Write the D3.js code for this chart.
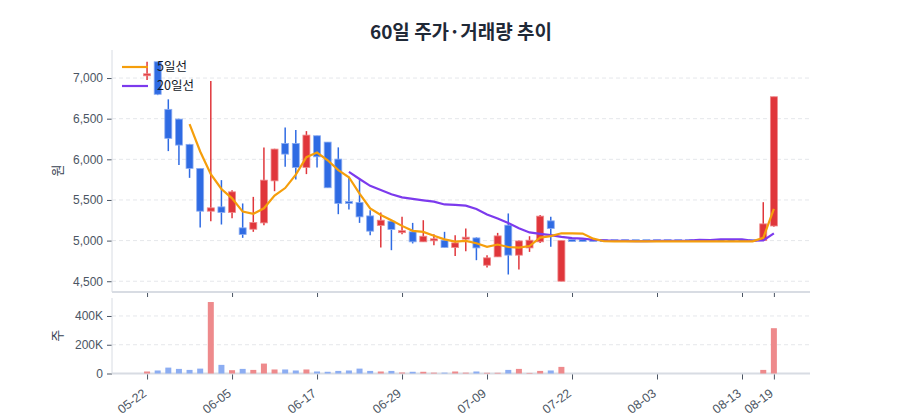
<!DOCTYPE html>
<html>
<head>
<meta charset="utf-8">
<script src="https://cdn.jsdelivr.net/npm/d3@7"></script>
<style>
	body { margin: 0; background: #fff; }
	svg { font-family: "Noto Sans CJK KR", "Noto Sans", sans-serif; }
	.tick text { fill: #4b5563; font-size: 12px; }
	.grid line { stroke: #e5e7eb; stroke-dasharray: 4,3; }
</style>
</head>
<body>
<svg id="chart" width="900" height="420"></svg>
<script>

const DATES = ['05-22','05-23','05-24','05-27','05-28','05-29','05-31','06-03','06-05','06-07',
	'06-08','06-10','06-11','06-12','06-13','06-14','06-17','06-18','06-19','06-20',
	'06-21','06-24','06-25','06-26','06-29','07-01','07-02','07-03','07-04','07-05',
	'07-06','07-08','07-09','07-10','07-11','07-12','07-15','07-16','07-17','07-19',
	'07-22','07-23','07-24','07-25','07-26','07-29','07-30','07-31','08-03','08-05',
	'08-06','08-07','08-08','08-09','08-10','08-12','08-13','08-14','08-16','08-19'];

const OPEN = [7020,7200,6615,6495,6184,5888,5362,5415,5346,5157,
	5140,5218,5735,6196,6196,5900,6290,6212,6003,5470,
	5470,5304,5186,5239,5100,5108,4985,5000,5005,4915,
	5020,5033,4697,4800,5190,4821,4910,4985,5243,4500,
	5000,5000,5000,5000,5000,5000,5000,5000,5000,5000,
	5000,5000,5000,5000,5000,5000,5000,5000,5000,5180];
const HIGH = [7200,7200,6738,6500,6190,5888,6963,5744,5621,5457,
	5538,6147,6130,6393,6360,6347,6290,6212,6147,5785,
	5744,5374,5346,5250,5292,5218,5251,5079,5108,5067,
	5149,5040,4821,5095,5334,5000,5054,5314,5292,5000,
	5000,5000,5000,5000,5000,5000,5000,5000,5000,5000,
	5000,5000,5000,5000,5000,5000,5000,5000,5473,6770];
const LOW = [6975,6790,6101,5929,5772,5161,5239,5198,5276,5034,
	5108,5190,5608,5908,5753,5818,5900,5650,5325,5383,
	5218,5067,4915,4882,5079,4965,4985,4943,4915,4812,
	4870,4759,4669,4800,4583,4644,4861,4970,4923,4500,
	4990,4990,4990,4990,4990,4990,4990,4990,4990,4990,
	4990,4990,4990,4990,4990,4990,4990,4990,5000,5169];
const CLOSE = [7040,6800,6258,6175,5888,5362,5403,5346,5600,5075,
	5223,5744,6126,6064,5900,6298,6031,5650,5457,5460,
	5292,5116,5251,5137,5110,4985,5054,5010,4915,4972,
	5030,4910,4788,5058,4821,4996,5005,5301,5149,5000,
	4990,4990,4990,4990,4990,4990,4990,4990,4990,4990,
	4990,4990,4990,4990,4990,4990,4990,4990,5206,6770];
const VOLUME = [14000,21000,41000,32000,25000,34000,497000,60000,23000,32000,
	25000,69000,28000,28000,21000,28000,14000,12000,18000,21000,
	34000,18000,14000,18000,7000,12000,12000,6000,6000,14000,
	6000,14000,5000,5000,25000,32000,4000,18000,21000,46000,
	0,0,0,0,0,0,0,0,0,0,
	0,0,0,0,0,0,0,0,25000,315000];

const X_TICKS = ['05-22','06-05','06-17','06-29','07-09','07-22','08-03','08-13','08-19'];
const PRICE_TICKS = [4500, 5000, 5500, 6000, 6500, 7000];
const VOLUME_TICKS = [0, 200000, 400000];

const RED = '#e0363b', BLUE = '#2f6be3';
const RED_LIGHT = '#ee8a8c', BLUE_LIGHT = '#8cadf2';

function movingAverage(values, n) {
	return values.map((v, i) => {
		if (i < n - 1) return null;
		return d3.mean(values.slice(i - n + 1, i + 1));
	});
}

const svg = d3.select('#chart');
const left = 112, right = 810;
const main = { top: 50, bottom: 291 };
const vol = { top: 298, bottom: 373.5 };

const candles = DATES.map((d, i) => ({
	i: i, date: d, o: OPEN[i], h: HIGH[i], l: LOW[i], c: CLOSE[i], v: VOLUME[i],
	up: CLOSE[i] >= OPEN[i]
}));

const x = d3.scaleLinear().domain([-3.3, 62.4]).range([left, right]);
const y = d3.scaleLinear().domain([4380, 7345]).range([main.bottom, main.top]);
const yv = d3.scaleLinear().domain([0, 525000]).range([vol.bottom, vol.top]);

const tickIdx = candles.filter(d => X_TICKS.includes(d.date)).map(d => d.i);

// title
svg.append('text')
	.attr('x', (left + right) / 2).attr('y', 39)
	.attr('text-anchor', 'middle')
	.attr('font-size', 19).attr('font-weight', 700)
	.attr('fill', '#1f2937')
	.text('60일 주가·거래량 추이');

// grid
svg.append('g').attr('class', 'grid')
	.selectAll('line').data(PRICE_TICKS).enter().append('line')
	.attr('x1', left).attr('x2', right)
	.attr('y1', d => y(d)).attr('y2', d => y(d));
svg.append('g').attr('class', 'grid')
	.selectAll('line').data(VOLUME_TICKS.slice(1)).enter().append('line')
	.attr('x1', left).attr('x2', right)
	.attr('y1', d => yv(d)).attr('y2', d => yv(d));

// axes
function styleAxis(g) {
	g.select('.domain').remove();
	g.selectAll('.tick line').attr('stroke', '#4b5563');
}

svg.append('g')
	.attr('transform', `translate(${left},0)`)
	.call(d3.axisLeft(y).tickValues(PRICE_TICKS).tickFormat(d3.format(',')).tickSize(5).tickPadding(4))
	.call(styleAxis);

svg.append('g')
	.attr('transform', `translate(${left},0)`)
	.call(d3.axisLeft(yv).tickValues(VOLUME_TICKS)
		.tickFormat(d => d === 0 ? '0' : (d / 1000) + 'K').tickSize(5).tickPadding(4))
	.call(styleAxis);

svg.append('g')
	.attr('transform', `translate(0,${main.bottom + 1})`)
	.call(d3.axisBottom(x).tickValues(tickIdx).tickFormat('').tickSize(5))
	.call(styleAxis);

const xAxisVol = svg.append('g')
	.attr('transform', `translate(0,${vol.bottom})`)
	.call(d3.axisBottom(x).tickValues(tickIdx).tickFormat(i => DATES[i]).tickSize(6))
	.call(styleAxis);
xAxisVol.selectAll('.tick text')
	.attr('y', 0)
	.attr('dy', '0.35em')
	.attr('text-anchor', 'end')
	.style('font-size', '12.5px')
	.attr('transform', 'translate(-3,18) rotate(-37)');

// axis lines
const axisColor = '#d8dce3';
svg.append('line').attr('x1', left).attr('x2', left).attr('y1', main.top).attr('y2', main.bottom + 1)
	.attr('stroke', axisColor);
svg.append('line').attr('x1', left).attr('x2', right).attr('y1', main.bottom + 1).attr('y2', main.bottom + 1)
	.attr('stroke', axisColor).attr('stroke-width', 2);
svg.append('line').attr('x1', left).attr('x2', left).attr('y1', vol.top).attr('y2', vol.bottom)
	.attr('stroke', axisColor);
svg.append('line').attr('x1', left).attr('x2', right).attr('y1', vol.bottom).attr('y2', vol.bottom)
	.attr('stroke', axisColor).attr('stroke-width', 2);

// axis titles
svg.append('text')
	.attr('transform', `translate(62,${(main.top + main.bottom) / 2}) rotate(-90)`)
	.attr('text-anchor', 'middle').attr('font-size', 13).attr('fill', '#374151')
	.text('원');
svg.append('text')
	.attr('transform', `translate(62,${(vol.top + vol.bottom) / 2}) rotate(-90)`)
	.attr('text-anchor', 'middle').attr('font-size', 13).attr('fill', '#374151')
	.text('주');

// candles
svg.append('clipPath').attr('id', 'clip-main')
	.append('rect').attr('x', left).attr('y', main.top).attr('width', right - left).attr('height', main.bottom - main.top);

const plot = svg.append('g').attr('clip-path', 'url(#clip-main)');
const bodyW = 7;

plot.selectAll('line.wick').data(candles).enter().append('line')
	.attr('class', 'wick')
	.attr('x1', d => x(d.i)).attr('x2', d => x(d.i))
	.attr('y1', d => y(d.h)).attr('y2', d => y(d.l))
	.attr('stroke', d => d.up ? RED : BLUE)
	.attr('stroke-width', 1.5);

plot.selectAll('rect.body').data(candles).enter().append('rect')
	.attr('class', 'body')
	.attr('x', d => x(d.i) - bodyW / 2)
	.attr('width', bodyW)
	.attr('y', d => Math.min(y(d.o), y(d.c)) - (Math.abs(y(d.o) - y(d.c)) < 2 ? 1 : 0))
	.attr('height', d => Math.max(2, Math.abs(y(d.o) - y(d.c))))
	.attr('fill', d => d.up ? RED : BLUE)
	.attr('stroke', d => d.up ? RED_LIGHT : BLUE_LIGHT)
	.attr('stroke-width', 0.8);

// moving averages
const ma5 = movingAverage(CLOSE, 5);
const ma20 = movingAverage(CLOSE, 20);
const line = d3.line()
	.defined(d => d.v !== null)
	.x(d => x(d.i))
	.y(d => y(d.v));

plot.append('path')
	.datum(ma20.map((v, i) => ({ i: i, v: v })))
	.attr('d', line).attr('fill', 'none')
	.attr('stroke', '#7c3aed').attr('stroke-width', 2.2);
plot.append('path')
	.datum(ma5.map((v, i) => ({ i: i, v: v })))
	.attr('d', line).attr('fill', 'none')
	.attr('stroke', '#f59e0b').attr('stroke-width', 2.2);

// volume bars
svg.append('g').selectAll('rect').data(candles.filter(d => d.v > 0)).enter().append('rect')
	.attr('x', d => x(d.i) - 3)
	.attr('width', 6)
	.attr('y', d => yv(d.v))
	.attr('height', d => yv(0) - yv(d.v))
	.attr('fill', d => d.up ? RED_LIGHT : BLUE_LIGHT);

// legend
const legend = svg.append('g');
const legendItems = [
	{ name: '5일선', color: '#f59e0b', y: 67 },
	{ name: '20일선', color: '#7c3aed', y: 86 }
];
legend.selectAll('line').data(legendItems).enter().append('line')
	.attr('x1', 122).attr('x2', 148)
	.attr('y1', d => d.y).attr('y2', d => d.y)
	.attr('stroke', d => d.color).attr('stroke-width', 2.2);
legend.selectAll('text').data(legendItems).enter().append('text')
	.attr('x', 157).attr('y', d => d.y)
	.attr('dy', '0.35em')
	.attr('font-size', 12.5).attr('fill', '#111827')
	.text(d => d.name);

</script>
</body>
</html>
